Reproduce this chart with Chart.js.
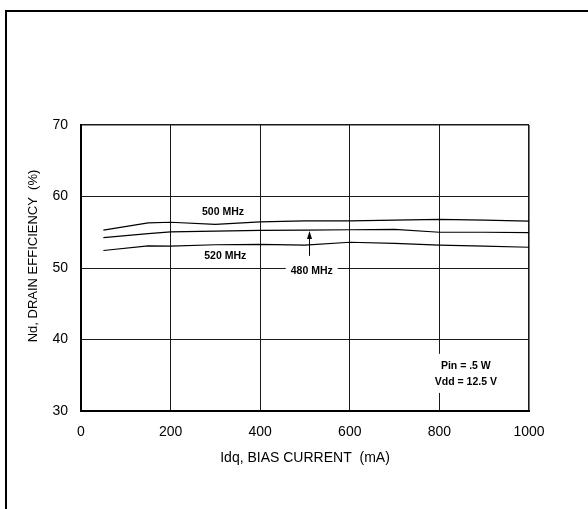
<!DOCTYPE html>
<html>
<head>
<meta charset="utf-8">
<script src="https://cdn.jsdelivr.net/npm/chart.js@4"></script>
<style>
  html, body { margin: 0; padding: 0; background: #fff; }
  #wrap { position: relative; width: 588px; height: 509px; overflow: hidden; }
  #frame { position: absolute; left: 5px; top: 10px; width: 700px; height: 700px;
           border-left: 2px solid #000; border-top: 2px solid #000; pointer-events: none; }
  canvas { position: absolute; left: 0; top: 0; }
</style>
</head>
<body>
<div id="wrap">
  <canvas id="c" width="588" height="509"></canvas>
  <div id="frame"></div>
</div>
<script>
// ---- data ----
const biasCurrent = [50, 150, 200, 300, 400, 500, 600, 700, 800, 900, 1000];
const eff500 = [55.3, 56.3, 56.4, 56.1, 56.45, 56.6, 56.6, 56.7, 56.8, 56.7, 56.55];
const eff480 = [54.25, 54.8, 55.05, 55.15, 55.25, 55.3, 55.35, 55.4, 55.0, 55.0, 54.95];
const eff520 = [52.45, 53.1, 53.05, 53.25, 53.3, 53.2, 53.6, 53.45, 53.2, 53.05, 52.9];
const seriesNames = ['500 MHz', '480 MHz', '520 MHz'];
const xTicks = [0, 200, 400, 600, 800, 1000];
const yTicks = [30, 40, 50, 60, 70];
const xTitle = 'Idq, BIAS CURRENT  (mA)';
const yTitle = 'Nd, DRAIN EFFICIENCY  (%)';

// annotation texts anchored in data units
const curveLabels = [
  { text: '500 MHz', x: 317, y: 57.87, box: false },
  { text: '520 MHz', x: 322, y: 51.6, box: false },
  { text: '480 MHz', x: 515, y: 49.6, box: true }
];
const arrowNote = { x: 510, from: 51.7, to: 55.17 };
const condNote = { lines: ['Pin = .5 W', 'Vdd = 12.5 V'], x: 859, y: [36.25, 34.0] };

const FONT = '"Liberation Sans", Arial, Helvetica, sans-serif';

function toPts(vals) { return biasCurrent.map((x, i) => ({ x, y: vals[i] })); }

const notesPlugin = {
  id: 'notes',
  afterDatasetsDraw(chart) {
    const { ctx, scales: { x, y } } = chart;
    ctx.save();
    ctx.font = 'bold 10.5px ' + FONT;
    ctx.textAlign = 'center';
    ctx.textBaseline = 'middle';
    curveLabels.forEach(l => {
      const px = x.getPixelForValue(l.x), py = y.getPixelForValue(l.y);
      if (l.box) {
        const w = ctx.measureText(l.text).width + 10;
        ctx.fillStyle = '#fff';
        ctx.fillRect(px - w / 2, py - 7, w, 14);
      }
      ctx.fillStyle = '#000';
      ctx.fillText(l.text, px, py);
    });
    // arrow
    const ax = Math.round(x.getPixelForValue(arrowNote.x)) + 0.5;
    const ay0 = y.getPixelForValue(arrowNote.from);
    const ay1 = y.getPixelForValue(arrowNote.to);
    ctx.strokeStyle = '#000';
    ctx.lineWidth = 1;
    ctx.beginPath();
    ctx.moveTo(ax, ay0);
    ctx.lineTo(ax, ay1 + 6);
    ctx.stroke();
    ctx.fillStyle = '#000';
    ctx.beginPath();
    ctx.moveTo(ax, ay1);
    ctx.lineTo(ax - 2.5, ay1 + 8);
    ctx.lineTo(ax + 2.5, ay1 + 8);
    ctx.closePath();
    ctx.fill();
    // conditions box
    const cx = x.getPixelForValue(condNote.x);
    const cy0 = y.getPixelForValue(condNote.y[0]);
    const cy1 = y.getPixelForValue(condNote.y[1]);
    let mw = 0;
    condNote.lines.forEach(t => { mw = Math.max(mw, ctx.measureText(t).width); });
    ctx.fillStyle = '#fff';
    ctx.fillRect(cx - mw / 2 - 4, cy0 - 12.5, mw + 8, (cy1 - cy0) + 23);
    ctx.fillStyle = '#000';
    condNote.lines.forEach((t, i) => ctx.fillText(t, cx, y.getPixelForValue(condNote.y[i])));
    ctx.restore();
  },
  afterDraw(chart) {
    const { ctx, chartArea } = chart;
    ctx.save();
    ctx.font = '13px ' + FONT;
    ctx.fillStyle = '#000';
    ctx.textAlign = 'center';
    ctx.textBaseline = 'middle';
    ctx.translate(33, (chartArea.top + chartArea.bottom) / 2 - 12);
    ctx.rotate(-Math.PI / 2);
    ctx.fillText(yTitle, 0, 0);
    ctx.restore();
  }
};

const lineStyle = { borderColor: '#000', borderWidth: 1.2, pointRadius: 0, tension: 0, fill: false };

new Chart(document.getElementById('c'), {
  type: 'line',
  data: {
    datasets: [
      Object.assign({ label: seriesNames[0], data: toPts(eff500) }, lineStyle),
      Object.assign({ label: seriesNames[1], data: toPts(eff480) }, lineStyle),
      Object.assign({ label: seriesNames[2], data: toPts(eff520) }, lineStyle)
    ]
  },
  options: {
    responsive: false,
    animation: false,
    devicePixelRatio: 1,
    layout: { padding: { left: 0, right: 59, top: 125, bottom: 0 } },
    plugins: { legend: { display: false }, tooltip: { enabled: false }, title: { display: false } },
    scales: {
      x: {
        type: 'linear',
        min: xTicks[0], max: xTicks[xTicks.length - 1],
        afterBuildTicks: s => { s.ticks = xTicks.map(v => ({ value: v })); },
        afterFit: s => { s.height = 98; },
        ticks: { color: '#000', font: { family: FONT, size: 14 }, padding: 12.6, maxRotation: 0, autoSkip: false,
                 callback: v => String(v) },
        grid: {
          color: '#1a1a1a',
          lineWidth: c => (c.tick && c.tick.value === 1000 ? 1.6 : 1),
          drawTicks: false
        },
        border: { display: true, color: '#000', width: 2 },
        title: { display: true, text: xTitle, color: '#000', font: { family: FONT, size: 14 }, padding: { top: 0, bottom: 42.6 } }
      },
      y: {
        type: 'linear',
        min: yTicks[0], max: yTicks[yTicks.length - 1],
        afterBuildTicks: s => { s.ticks = yTicks.map(v => ({ value: v })); },
        afterFit: s => { s.width = 81; },
        ticks: { color: '#000', font: { family: FONT, size: 14 }, padding: 13, callback: v => String(v) },
        grid: {
          color: '#1a1a1a',
          lineWidth: c => (c.tick && c.tick.value === 70 ? 1.6 : 1),
          drawTicks: false
        },
        border: { display: true, color: '#000', width: 2 },
        title: { display: false }
      }
    }
  },
  plugins: [notesPlugin]
});
</script>
</body>
</html>
